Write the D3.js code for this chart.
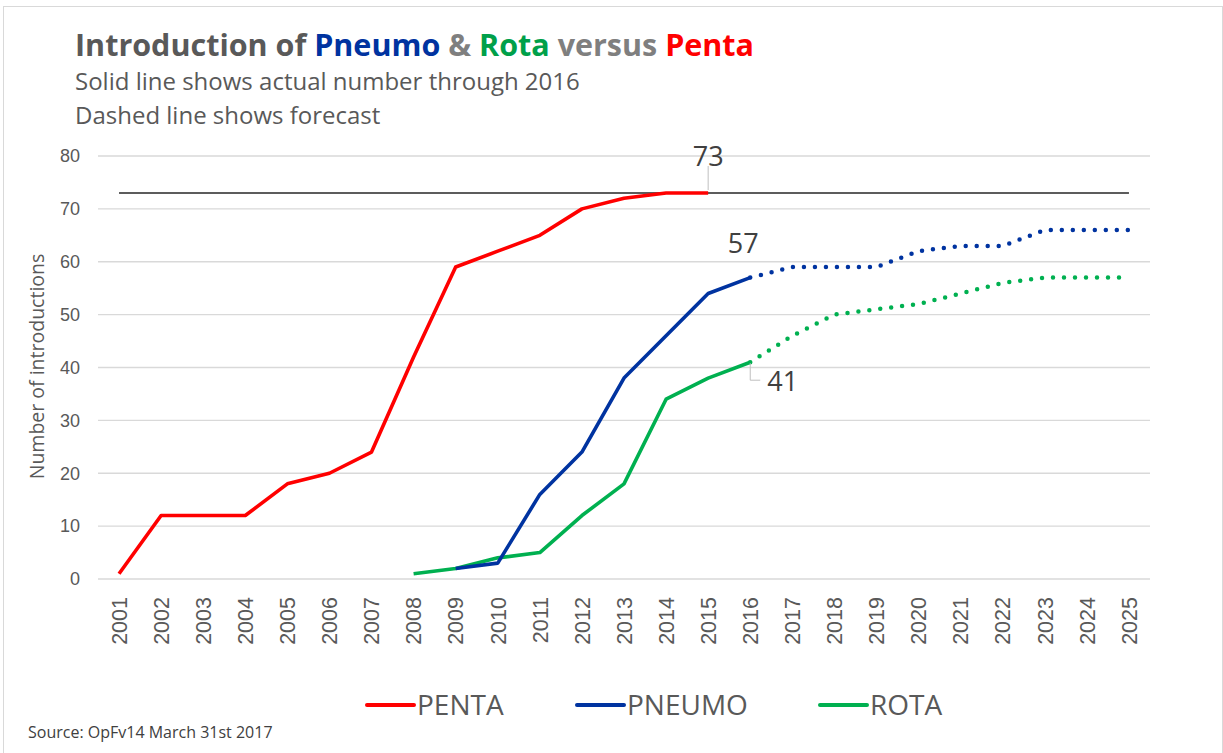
<!DOCTYPE html>
<html>
<head>
<meta charset="utf-8">
<script src="https://cdn.jsdelivr.net/npm/d3@7"></script>
<style>
  body { margin: 0; background: #fff; }
  text { font-family: 'Open Sans', Lato, sans-serif; }
</style>
</head>
<body>
<div id="chart"></div>
<script>
// data
const years = ['2001', '2002', '2003', '2004', '2005', '2006', '2007', '2008', '2009', '2010', '2011', '2012', '2013',
  '2014', '2015', '2016', '2017', '2018', '2019', '2020', '2021', '2022', '2023', '2024', '2025']
const yTicks = [0, 10, 20, 30, 40, 50, 60, 70, 80]

const penta = [1, 12, 12, 12, 18, 20, 24, 42, 59, 62, 65, 70, 72, 73, 73,
  null, null, null, null, null, null, null, null, null, null]
const pneumoActual = [null, null, null, null, null, null, null, null, 2, 3, 16, 24, 38, 46, 54, 57,
  null, null, null, null, null, null, null, null, null]
const pneumoForecast = [null, null, null, null, null, null, null, null, null, null, null, null, null, null, null, 57,
  59, 59, 59, 62, 63, 63, 66, 66, 66]
const rotaActual = [null, null, null, null, null, null, null, 1, 2, 4, 5, 12, 18, 34, 38, 41,
  null, null, null, null, null, null, null, null, null]
const rotaForecast = [null, null, null, null, null, null, null, null, null, null, null, null, null, null, null, 41,
  46, 50, 51, 52, 54, 56, 57, 57, 57]
const target = 73

const legendNames = ['PENTA', 'PNEUMO', 'ROTA']
const colors = { penta: '#ff0000', pneumo: '#0033a0', rota: '#00b050' }

const dimensions = {
  width: 1223,
  height: 753,
  left: 98,
  right: 1150,
  top: 156,
  bottom: 579,
}

const svg = d3.select('#chart')
  .append('svg')
  .attr('width', dimensions.width)
  .attr('height', dimensions.height)

// chart border
svg.append('rect')
  .attr('x', 3.5).attr('y', 6.5)
  .attr('width', dimensions.width - 4).attr('height', dimensions.height)
  .attr('fill', 'none')
  .attr('stroke', '#d9d9d9')

// title
const title = svg.append('text')
  .attr('x', 75).attr('y', 56)
  .style('font-size', '30.5px')
  .style('font-weight', 'bold')
const titleParts = [
  ['Introduction of ', '#595959'],
  ['Pneumo', '#0033a0'],
  [' & ', '#7f7f7f'],
  ['Rota', '#00a04a'],
  [' versus ', '#7f7f7f'],
  ['Penta', '#ff0000'],
]
titleParts.forEach(([t, c]) => title.append('tspan').attr('fill', c).text(t))

svg.append('text')
  .attr('x', 75).attr('y', 90)
  .attr('fill', '#595959')
  .style('font-size', '24px')
  .text('Solid line shows actual number through 2016')

svg.append('text')
  .attr('x', 75).attr('y', 124)
  .attr('fill', '#595959')
  .style('font-size', '24px')
  .text('Dashed line shows forecast')

// scales
const xScale = d3.scaleBand()
  .domain(years)
  .range([dimensions.left, dimensions.right])
const xPos = (i) => xScale(years[i]) + xScale.bandwidth() / 2

const yScale = d3.scaleLinear()
  .domain([0, 80])
  .range([dimensions.bottom, dimensions.top])

// gridlines
svg.append('g')
  .selectAll('line')
  .data(yTicks)
  .join('line')
  .attr('x1', dimensions.left)
  .attr('x2', dimensions.right)
  .attr('y1', (d) => yScale(d))
  .attr('y2', (d) => yScale(d))
  .attr('stroke', '#d9d9d9')
  .attr('stroke-width', 1.3)

// y axis
const yAxis = d3.axisLeft(yScale).tickValues(yTicks).tickSize(0).tickPadding(18)
const yAxisGroup = svg.append('g')
  .attr('transform', `translate(${dimensions.left}, 0)`)
  .call(yAxis)
yAxisGroup.select('.domain').remove()
yAxisGroup.selectAll('text')
  .attr('fill', '#595959')
  .style('font-family', "'Liberation Sans', Arial, sans-serif")
  .style('font-size', '18px')

svg.append('text')
  .attr('transform', `translate(44, ${(dimensions.top + dimensions.bottom) / 2 - 1}) rotate(-90)`)
  .attr('text-anchor', 'middle')
  .attr('fill', '#595959')
  .style('font-size', '19.5px')
  .text('Number of introductions')

// x axis
const xAxis = d3.axisBottom(xScale).tickSize(0).tickPadding(0)
const xAxisGroup = svg.append('g')
  .attr('transform', `translate(0, ${dimensions.bottom})`)
  .call(xAxis)
xAxisGroup.select('.domain').remove()
xAxisGroup.selectAll('text')
  .attr('transform', 'translate(0, 18) rotate(-90)')
  .attr('x', 0).attr('y', 0).attr('dy', '0.36em')
  .attr('text-anchor', 'end')
  .attr('fill', '#595959')
  .style('font-family', "'Liberation Sans', Arial, sans-serif")
  .style('font-size', '21.5px')

// target line at 73
svg.append('line')
  .attr('x1', xPos(0))
  .attr('x2', xPos(years.length - 1))
  .attr('y1', yScale(target))
  .attr('y2', yScale(target))
  .attr('stroke', '#262626')
  .attr('stroke-width', 1.5)

const lineGenerator = d3.line()
  .defined((d) => d != null)
  .x((d, i) => xPos(i))
  .y((d) => yScale(d))

const drawLine = (values, color, dotted) => {
  const path = svg.append('path')
    .datum(values)
    .attr('d', lineGenerator)
    .attr('fill', 'none')
    .attr('stroke', color)
    .attr('stroke-linejoin', 'round')
  if (dotted) {
    path.attr('stroke-width', 4.5)
      .attr('stroke-linecap', 'round')
      .attr('stroke-dasharray', '0 11')
  } else {
    path.attr('stroke-width', 3.6)
  }
}

drawLine(rotaForecast, colors.rota, true)
drawLine(pneumoForecast, colors.pneumo, true)
drawLine(rotaActual, colors.rota, false)
drawLine(pneumoActual, colors.pneumo, false)
drawLine(penta, colors.penta, false)

// data labels
const iPenta = 14
const iLast = 15
svg.append('line')
  .attr('x1', xPos(iPenta)).attr('x2', xPos(iPenta))
  .attr('y1', yScale(target) - 3).attr('y2', yScale(target) - 27)
  .attr('stroke', '#bfbfbf')
svg.append('text')
  .attr('x', xPos(iPenta)).attr('y', yScale(target) - 27)
  .attr('text-anchor', 'middle')
  .attr('fill', '#404040')
  .style('font-size', '27px')
  .text(target)

svg.append('text')
  .attr('x', xPos(iLast) - 7).attr('y', yScale(pneumoActual[iLast]) - 25)
  .attr('text-anchor', 'middle')
  .attr('fill', '#404040')
  .style('font-size', '27px')
  .text(pneumoActual[iLast])

const rx = xPos(iLast)
const ry = yScale(rotaActual[iLast])
svg.append('path')
  .attr('d', `M${rx},${ry + 1}V${ry + 18}H${rx + 10}`)
  .attr('fill', 'none')
  .attr('stroke', '#bfbfbf')
svg.append('text')
  .attr('x', rx + 17).attr('y', ry + 29)
  .attr('fill', '#404040')
  .style('font-size', '27px')
  .text(rotaActual[iLast])

// legend
const legendX = [367, 577, 820]
const legendColors = [colors.penta, colors.pneumo, colors.rota]
const legend = svg.append('g')
  .selectAll('g')
  .data(legendNames)
  .join('g')
  .attr('transform', (d, i) => `translate(${legendX[i]}, 705)`)
legend.append('line')
  .attr('x1', 0).attr('x2', 47)
  .attr('stroke', (d, i) => legendColors[i])
  .attr('stroke-width', 4)
  .attr('stroke-linecap', 'round')
legend.append('text')
  .attr('x', 50).attr('dy', '0.36em')
  .attr('fill', '#595959')
  .style('font-size', '28px')
  .text((d) => d)

// source
svg.append('text')
  .attr('x', 28).attr('y', 738)
  .attr('fill', '#404040')
  .style('font-size', '16px')
  .text('Source: OpFv14 March 31st 2017')
</script>
</body>
</html>
